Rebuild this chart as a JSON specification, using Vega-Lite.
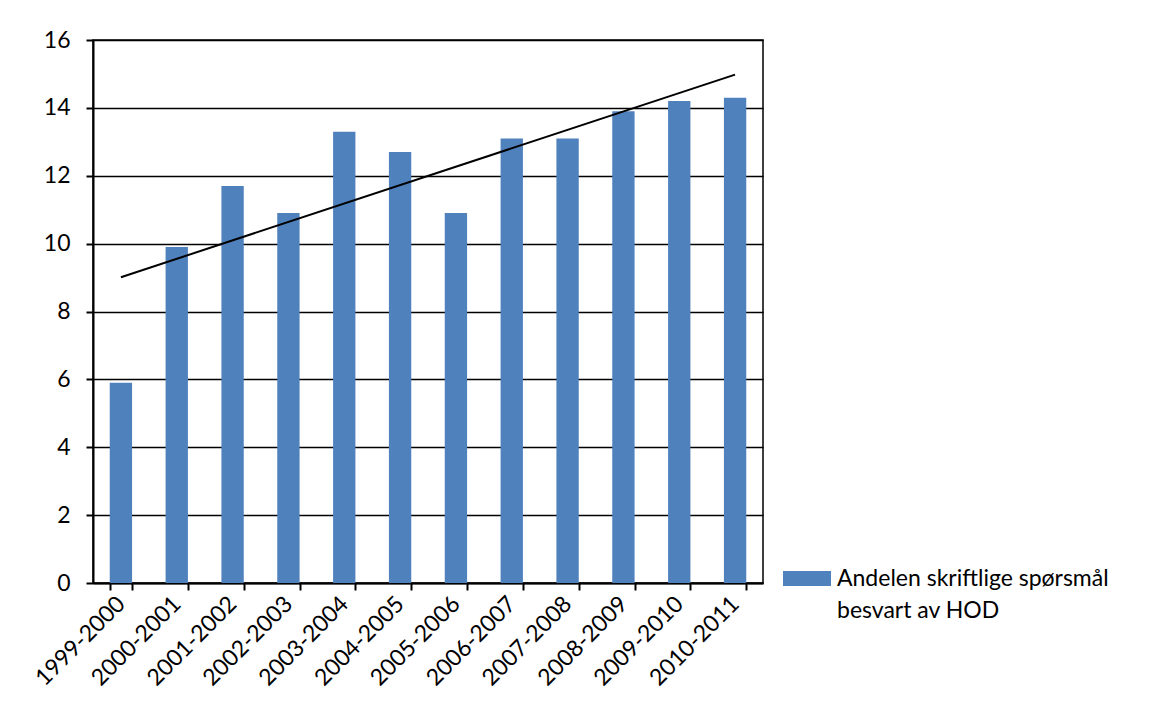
{
  "$schema": "https://vega.github.io/schema/vega-lite/v6.json",
  "autosize": "none",
  "padding": {"left": 93, "top": 40, "right": 409, "bottom": 139},
  "width": 670,
  "height": 543,
  "background": "white",
  "config": {
    "font": "Lato",
    "view": {"stroke": "black", "strokeWidth": 1.5},
    "style": {"guide-label": {"lineHeight": 32}},
    "axis": {
      "labelFont": "Lato",
      "labelFontSize": 23,
      "labelColor": "black",
      "domainColor": "black",
      "domainWidth": 2,
      "tickColor": "black",
      "tickWidth": 2,
      "tickSize": 7,
      "gridColor": "black",
      "gridWidth": 1.5,
      "title": null
    }
  },
  "datasets": {
    "andel": [
      {"periode": "1999-2000", "andel": 5.9, "serie": "Andelen skriftlige spørsmål besvart av HOD"},
      {"periode": "2000-2001", "andel": 9.9, "serie": "Andelen skriftlige spørsmål besvart av HOD"},
      {"periode": "2001-2002", "andel": 11.7, "serie": "Andelen skriftlige spørsmål besvart av HOD"},
      {"periode": "2002-2003", "andel": 10.9, "serie": "Andelen skriftlige spørsmål besvart av HOD"},
      {"periode": "2003-2004", "andel": 13.3, "serie": "Andelen skriftlige spørsmål besvart av HOD"},
      {"periode": "2004-2005", "andel": 12.7, "serie": "Andelen skriftlige spørsmål besvart av HOD"},
      {"periode": "2005-2006", "andel": 10.9, "serie": "Andelen skriftlige spørsmål besvart av HOD"},
      {"periode": "2006-2007", "andel": 13.1, "serie": "Andelen skriftlige spørsmål besvart av HOD"},
      {"periode": "2007-2008", "andel": 13.1, "serie": "Andelen skriftlige spørsmål besvart av HOD"},
      {"periode": "2008-2009", "andel": 13.9, "serie": "Andelen skriftlige spørsmål besvart av HOD"},
      {"periode": "2009-2010", "andel": 14.2, "serie": "Andelen skriftlige spørsmål besvart av HOD"},
      {"periode": "2010-2011", "andel": 14.3, "serie": "Andelen skriftlige spørsmål besvart av HOD"}
    ],
    "trend": [
      {"periode": "1999-2000", "andel": 9.01},
      {"periode": "2010-2011", "andel": 14.98}
    ]
  },
  "layer": [
    {
      "data": {"name": "andel"},
      "mark": {"type": "bar", "color": "#4F81BD"},
      "encoding": {
        "x": {
          "field": "periode",
          "type": "nominal",
          "sort": null,
          "scale": {"paddingInner": 0.6, "paddingOuter": 0.3},
          "axis": {
            "labelAngle": -45,
            "labelAlign": "right",
            "labelBaseline": "middle",
            "labelPadding": 10,
            "tickBand": "extent",
            "grid": false
          }
        },
        "y": {
          "field": "andel",
          "type": "quantitative",
          "scale": {"domain": [0, 16], "nice": false},
          "axis": {"values": [0, 2, 4, 6, 8, 10, 12, 14, 16], "labelPadding": 16, "grid": true, "domain": true}
        },
        "color": {
          "field": "serie",
          "type": "nominal",
          "scale": {"range": ["#4F81BD"]},
          "legend": {
            "title": null,
            "orient": "none",
            "legendX": 690,
            "legendY": 522,
            "padding": 0,
            "symbolType": "M-1,-0.625H1V0H-1Z",
            "symbolSize": 2304,
            "symbolStrokeWidth": 0,
            "symbolOpacity": 1,
            "labelFont": "Lato",
            "labelFontSize": 23,
            "labelColor": "black",
            "labelOffset": 6,
            "labelLimit": 400,
            "labelBaseline": "alphabetic",
            "labelExpr": "['Andelen skriftlige spørsmål', 'besvart av HOD']"
          }
        }
      }
    },
    {
      "data": {"name": "trend"},
      "mark": {"type": "line", "color": "black", "strokeWidth": 2},
      "encoding": {
        "x": {"field": "periode", "type": "nominal", "sort": null},
        "y": {"field": "andel", "type": "quantitative"}
      }
    }
  ]
}
